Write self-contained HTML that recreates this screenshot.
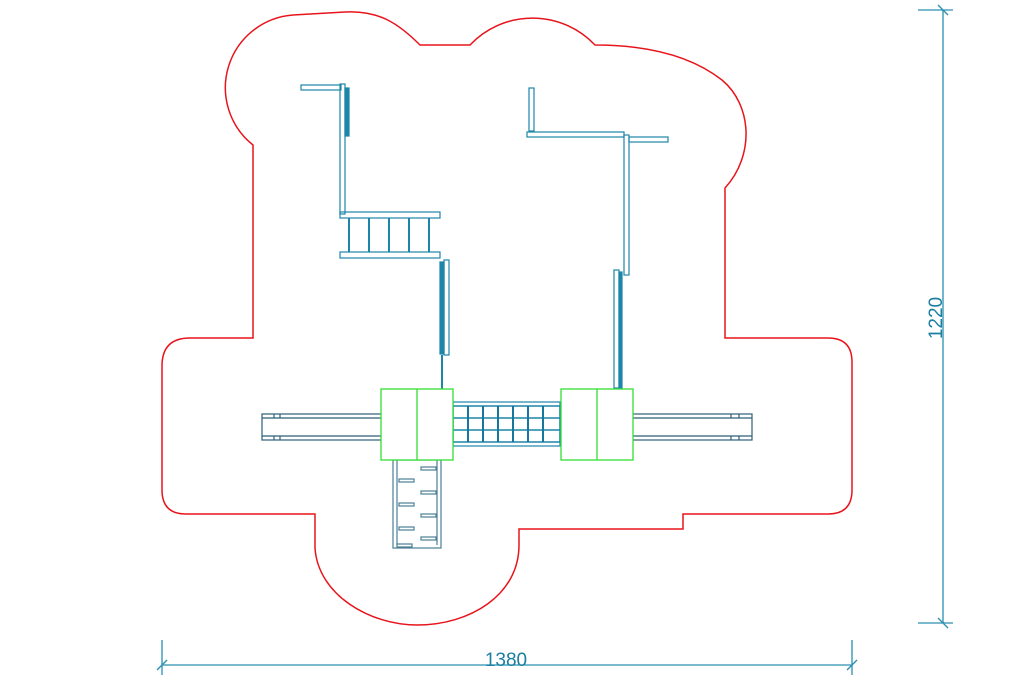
<!DOCTYPE html>
<html><head><style>html,body{margin:0;padding:0;background:#fff;}svg{display:block}</style></head>
<body>
<svg width="1024" height="683" viewBox="0 0 1024 683" xmlns="http://www.w3.org/2000/svg">
<path d="M253,145 L253,338 L190,338 Q162,338 162,366 L162,490 Q162,514 186,514 L315,514 L315,548 C318,595 370,625 417,625 C470,625 519,595 519,545 L519,529 L683,529 L683,514 L828,514 Q852,514 852,490 L852,362 Q852,338 828,338 L725,338 L725,188 C755,155 752,105 722,80 C690,55 645,45 595,45 A86,86 0 0 0 470,45 L420,45 C400,25 380,10 345,12 L293,15 A73,73 0 0 0 253,145 Z" fill="none" stroke="#e8141c" stroke-width="1.5"/>
<g stroke="#2a8fb0" stroke-width="1.3" fill="none">
<line x1="943" y1="10" x2="943" y2="623"/>
<line x1="918" y1="10" x2="953" y2="10"/><line x1="938" y1="5" x2="948" y2="15"/>
<line x1="918" y1="623" x2="953" y2="623"/><line x1="938" y1="618" x2="948" y2="628"/>
<line x1="162" y1="665" x2="852" y2="665"/>
<line x1="162" y1="640" x2="162" y2="675"/><line x1="157" y1="670" x2="167" y2="660"/>
<line x1="852" y1="640" x2="852" y2="675"/><line x1="847" y1="670" x2="857" y2="660"/>
</g>
<text x="506" y="666" font-family="Liberation Sans, sans-serif" font-size="19" fill="#1a7fa0" text-anchor="middle">1380</text>
<text transform="translate(942,318) rotate(-90)" font-family="Liberation Sans, sans-serif" font-size="19" fill="#1a7fa0" text-anchor="middle">1220</text>
<g stroke="#1d86a8" stroke-width="1.2" fill="none">
<rect x="301" y="85" width="40" height="5"/>
<rect x="340" y="84" width="5" height="130"/>
<rect x="345" y="88" width="4" height="48" fill="#1d86a8"/>
<rect x="340" y="212" width="100" height="6"/>
<rect x="340" y="252" width="100" height="6"/>
<line x1="349" y1="218" x2="349" y2="252" stroke-width="2"/>
<line x1="369" y1="218" x2="369" y2="252" stroke-width="2"/>
<line x1="389" y1="218" x2="389" y2="252" stroke-width="2"/>
<line x1="409" y1="218" x2="409" y2="252" stroke-width="2"/>
<line x1="429" y1="218" x2="429" y2="252" stroke-width="2"/>
<rect x="444" y="260" width="5" height="95"/>
<rect x="440" y="262" width="4" height="92" fill="#1d86a8"/>
<line x1="442" y1="355" x2="442" y2="390" stroke-width="2"/>
<rect x="529" y="88" width="5" height="43"/>
<rect x="527" y="132" width="97" height="5"/>
<rect x="624" y="135" width="5" height="140"/>
<rect x="629" y="137" width="39" height="5"/>
<rect x="614" y="270" width="5" height="118"/>
<rect x="619" y="272" width="3" height="116" fill="#1d86a8"/>
<rect x="262" y="414" width="120" height="26" stroke="#2d5f78"/>
<line x1="262" y1="418" x2="382" y2="418" stroke="#2d5f78"/><line x1="262" y1="436" x2="382" y2="436" stroke="#2d5f78"/>
<line x1="274" y1="414" x2="274" y2="418" stroke="#2d5f78"/><line x1="280" y1="414" x2="280" y2="418" stroke="#2d5f78"/>
<line x1="274" y1="436" x2="274" y2="440" stroke="#2d5f78"/><line x1="280" y1="436" x2="280" y2="440" stroke="#2d5f78"/>
<rect x="632" y="414" width="120" height="26" stroke="#2d5f78"/>
<line x1="632" y1="418" x2="752" y2="418" stroke="#2d5f78"/><line x1="632" y1="436" x2="752" y2="436" stroke="#2d5f78"/>
<line x1="731" y1="414" x2="731" y2="418" stroke="#2d5f78"/><line x1="739" y1="414" x2="739" y2="418" stroke="#2d5f78"/>
<line x1="731" y1="436" x2="731" y2="440" stroke="#2d5f78"/><line x1="739" y1="436" x2="739" y2="440" stroke="#2d5f78"/>
<rect x="453" y="402" width="107" height="44"/>
<rect x="453" y="406" width="107" height="36" stroke-width="1.5"/>
<line x1="453" y1="418" x2="560" y2="418" stroke-width="1.5"/>
<line x1="453" y1="430" x2="560" y2="430" stroke-width="1.5"/>
<g stroke-width="2" stroke="#1676a0">
<line x1="468" y1="406" x2="468" y2="442"/>
<line x1="483" y1="406" x2="483" y2="442"/>
<line x1="498" y1="406" x2="498" y2="442"/>
<line x1="513" y1="406" x2="513" y2="442"/>
<line x1="528" y1="406" x2="528" y2="442"/>
<line x1="543" y1="406" x2="543" y2="442"/>
</g>
<rect x="393" y="460" width="48" height="88" stroke="#4a7f95"/>
<line x1="397" y1="460" x2="397" y2="545" stroke="#4a7f95"/>
<line x1="437" y1="460" x2="437" y2="545" stroke="#4a7f95"/>
<g stroke="#4a7f95">
<rect x="421" y="467" width="15" height="3"/><rect x="399" y="479" width="15" height="3"/>
<rect x="421" y="491" width="15" height="3"/><rect x="399" y="503" width="15" height="3"/>
<rect x="421" y="514" width="15" height="3"/><rect x="399" y="527" width="15" height="3"/>
<rect x="421" y="537" width="15" height="3"/><rect x="397" y="544" width="15" height="3"/>
</g>
</g>
<g stroke="#33e033" stroke-width="1.3" fill="#fff">
<rect x="381" y="389" width="72" height="71"/>
<line x1="417" y1="389" x2="417" y2="460"/>
<rect x="561" y="389" width="72" height="71"/>
<line x1="597" y1="389" x2="597" y2="460"/>
</g>
</svg>
</body></html>
